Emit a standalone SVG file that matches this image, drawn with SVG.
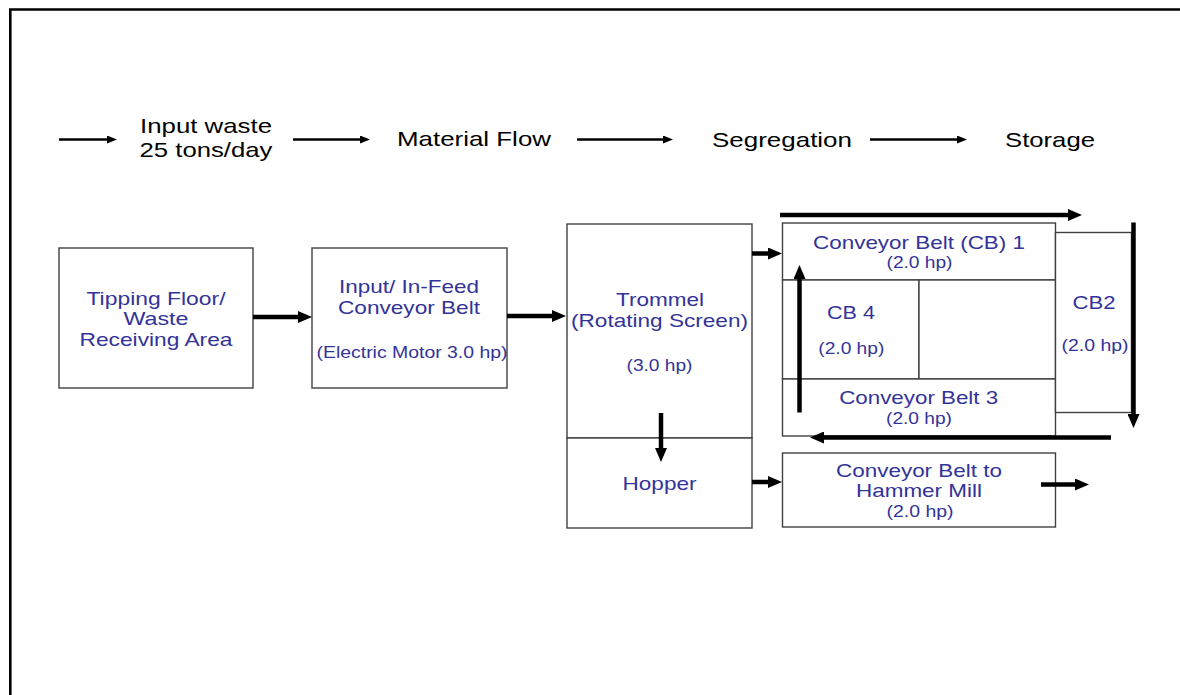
<svg xmlns="http://www.w3.org/2000/svg" width="1180" height="695" viewBox="0 0 1180 695">
<style>
.box{fill:#fff;stroke:#404040;stroke-width:1.4}
.lbl{font-family:"Liberation Sans",Arial,sans-serif;fill:#333399;text-anchor:middle;font-size:19px}
.hp{font-size:16px}
.leg{font-family:"Liberation Sans",Arial,sans-serif;fill:#000;text-anchor:middle;font-size:21px}
.thin{stroke:#000;stroke-width:2.5;fill:none}
.thick{stroke:#000;stroke-width:4.5;fill:none}
.frame{stroke:#000;stroke-width:2.6;fill:none}
</style>
<defs>
<marker id="hs" markerUnits="userSpaceOnUse" markerWidth="10" markerHeight="8" refX="1" refY="4" orient="auto"><path d="M0,0 L10,4 L0,8 z" fill="#000"/></marker>
<marker id="hb" markerUnits="userSpaceOnUse" markerWidth="14" markerHeight="12" refX="1" refY="6" orient="auto"><path d="M0,0 L14,6 L0,12 z" fill="#000"/></marker>
</defs>
<rect width="1180" height="695" fill="#fff"/>
<path class="frame" d="M10.3,695 V9.5 H1180"/>

<g id="legend">
<text class="leg" x="206" y="133" textLength="132" lengthAdjust="spacingAndGlyphs">Input waste</text>
<text class="leg" x="206" y="157" textLength="133" lengthAdjust="spacingAndGlyphs">25 tons/day</text>
<text class="leg" x="474" y="146" textLength="154" lengthAdjust="spacingAndGlyphs">Material Flow</text>
<text class="leg" x="782" y="147" textLength="140" lengthAdjust="spacingAndGlyphs">Segregation</text>
<text class="leg" x="1050" y="147" textLength="90" lengthAdjust="spacingAndGlyphs">Storage</text>
</g>

<g id="tipping">
<rect class="box" x="59" y="248" width="194" height="140"/>
<text class="lbl" x="156" y="305" textLength="139" lengthAdjust="spacingAndGlyphs">Tipping Floor/</text>
<text class="lbl" x="156" y="325" textLength="65" lengthAdjust="spacingAndGlyphs">Waste</text>
<text class="lbl" x="156" y="346" textLength="153" lengthAdjust="spacingAndGlyphs">Receiving Area</text>
</g>

<g id="infeed">
<rect class="box" x="312" y="248" width="195" height="140"/>
<text class="lbl" x="409" y="293" textLength="140" lengthAdjust="spacingAndGlyphs">Input/ In-Feed</text>
<text class="lbl" x="409" y="314" textLength="142" lengthAdjust="spacingAndGlyphs">Conveyor Belt</text>
<text class="lbl hp" x="412" y="358" textLength="191" lengthAdjust="spacingAndGlyphs">(Electric Motor 3.0 hp)</text>
</g>

<g id="trommel">
<rect class="box" x="567" y="224" width="185" height="214"/>
<text class="lbl" x="660" y="306" textLength="88" lengthAdjust="spacingAndGlyphs">Trommel</text>
<text class="lbl" x="659.5" y="327" textLength="177" lengthAdjust="spacingAndGlyphs">(Rotating Screen)</text>
<text class="lbl hp" x="659.5" y="371" textLength="66" lengthAdjust="spacingAndGlyphs">(3.0 hp)</text>
</g>

<g id="hopper">
<rect class="box" x="567" y="438" width="185" height="90"/>
<text class="lbl" x="659.5" y="490" textLength="74" lengthAdjust="spacingAndGlyphs">Hopper</text>
</g>

<g id="cb1">
<rect class="box" x="782.5" y="223" width="273" height="57"/>
<text class="lbl" x="919" y="249" textLength="212" lengthAdjust="spacingAndGlyphs">Conveyor Belt (CB) 1</text>
<text class="lbl hp" x="919.5" y="268" textLength="66" lengthAdjust="spacingAndGlyphs">(2.0 hp)</text>
</g>

<g id="cb4">
<rect class="box" x="782.5" y="280" width="136.5" height="99"/>
<rect class="box" x="919" y="280" width="136.5" height="99"/>
<text class="lbl" x="851" y="319" textLength="48" lengthAdjust="spacingAndGlyphs">CB 4</text>
<text class="lbl hp" x="851.3" y="354" textLength="66" lengthAdjust="spacingAndGlyphs">(2.0 hp)</text>
</g>

<g id="cb3">
<rect class="box" x="782.5" y="379" width="273" height="57"/>
<text class="lbl" x="918.7" y="404" textLength="159" lengthAdjust="spacingAndGlyphs">Conveyor Belt 3</text>
<text class="lbl hp" x="919" y="424" textLength="66" lengthAdjust="spacingAndGlyphs">(2.0 hp)</text>
</g>

<g id="cb2">
<rect class="box" x="1055.5" y="232.5" width="76" height="180"/>
<text class="lbl" x="1094" y="309" textLength="43" lengthAdjust="spacingAndGlyphs">CB2</text>
<text class="lbl hp" x="1095" y="351" textLength="67" lengthAdjust="spacingAndGlyphs">(2.0 hp)</text>
</g>

<g id="hammermill">
<rect class="box" x="782.5" y="453" width="273" height="74"/>
<text class="lbl" x="919" y="477" textLength="166" lengthAdjust="spacingAndGlyphs">Conveyor Belt to</text>
<text class="lbl" x="919" y="497" textLength="126" lengthAdjust="spacingAndGlyphs">Hammer Mill</text>
<text class="lbl hp" x="920" y="517" textLength="67" lengthAdjust="spacingAndGlyphs">(2.0 hp)</text>
</g>

<g id="connectors">
<line class="thin" x1="59" y1="139.5" x2="108" y2="139.5" marker-end="url(#hs)"/>
<line class="thin" x1="293" y1="139.5" x2="361" y2="139.5" marker-end="url(#hs)"/>
<line class="thin" x1="577" y1="139.5" x2="664" y2="139.5" marker-end="url(#hs)"/>
<line class="thin" x1="870" y1="139.5" x2="958" y2="139.5" marker-end="url(#hs)"/>

<line class="thick" x1="253" y1="317" x2="299" y2="317" marker-end="url(#hb)"/>
<line class="thick" x1="507" y1="316" x2="553" y2="316" marker-end="url(#hb)"/>
<line class="thick" x1="752" y1="253.5" x2="769" y2="253.5" marker-end="url(#hb)"/>
<line class="thick" x1="752" y1="482" x2="769" y2="482" marker-end="url(#hb)"/>
<line class="thick" x1="1041" y1="484.5" x2="1076" y2="484.5" marker-end="url(#hb)"/>
<line class="thick" x1="780" y1="215" x2="1069" y2="215" marker-end="url(#hb)"/>
<line class="thick" x1="1133.5" y1="222.5" x2="1133.5" y2="415" marker-end="url(#hb)"/>
<line class="thick" x1="1111" y1="437.5" x2="823" y2="437.5" marker-end="url(#hb)"/>
<line class="thick" x1="799.5" y1="412.5" x2="799.5" y2="278" marker-end="url(#hb)"/>
<line class="thick" x1="661" y1="413" x2="661" y2="449" marker-end="url(#hb)"/>
</g>
</svg>
